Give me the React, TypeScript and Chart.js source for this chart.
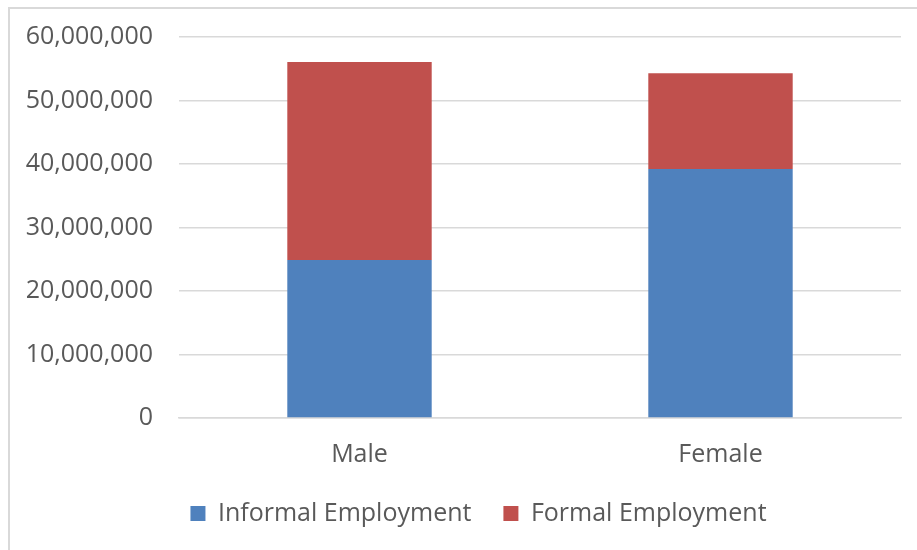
import React, { useEffect, useRef } from "react";
import { Chart, registerables } from "chart.js";

Chart.register(...registerables);

const categories = ["Male", "Female"];
const informalEmployment = [24900000, 39200000];
const formalEmployment = [31150000, 15100000];
const seriesLabels = ["Informal Employment", "Formal Employment"];
const seriesColors = ["#4F81BD", "#C0504D"];
const yMax = 60000000;
const yStep = 10000000;

const FONT = "'Open Sans', sans-serif";
const TEXT = "#595959";
const GRID = "#d9d9d9";

const legendShift = {
  id: "legendShift",
  afterLayout(chart: any) {
    const l = chart.legend;
    if (l) {
      l.left += 28;
      l.right += 28;
    }
  },
};

export default function App() {
  const ref = useRef<HTMLCanvasElement | null>(null);
  useEffect(() => {
    if (!ref.current) return;
    const chart = new Chart(ref.current, {
      type: "bar",
      data: {
        labels: categories,
        datasets: [
          {
            label: seriesLabels[0],
            data: informalEmployment,
            backgroundColor: seriesColors[0],
            categoryPercentage: 0.8,
            barPercentage: 0.5,
          },
          {
            label: seriesLabels[1],
            data: formalEmployment,
            backgroundColor: seriesColors[1],
            categoryPercentage: 0.8,
            barPercentage: 0.5,
          },
        ],
      },
      options: {
        animation: false,
        responsive: false,
        maintainAspectRatio: false,
        layout: { padding: { left: 0, right: 16, top: 37, bottom: 14 } },
        plugins: {
          title: { display: false },
          tooltip: { enabled: false },
          legend: {
            position: "bottom",
            labels: {
              color: TEXT,
              font: { family: FONT, size: 25 },
              boxWidth: 15,
              boxHeight: 15,
              padding: 32,
            },
          },
        },
        scales: {
          x: {
            stacked: true,
            afterFit: (s: any) => {
              s.height = 51;
            },
            grid: { display: false, drawTicks: false },
            border: { display: true, color: GRID, width: 1.5 },
            ticks: {
              color: TEXT,
              font: { family: FONT, size: 25 },
              padding: 22,
            },
          },
          y: {
            stacked: true,
            min: 0,
            max: yMax,
            afterFit: (s: any) => {
              s.width = 179;
            },
            grid: { color: GRID, lineWidth: 1.5, drawTicks: true, tickLength: 26, tickColor: "rgba(0,0,0,0)" },
            border: { display: false },
            ticks: {
              stepSize: yStep,
              color: TEXT,
              font: { family: FONT, size: 25 },
              padding: 0,
              callback: (v: any) => Number(v).toLocaleString("en-US"),
            },
          },
        },
      },
      plugins: [legendShift],
    });
    return () => chart.destroy();
  }, []);

  return (
    <div style={{ position: "fixed", left: 0, top: 0, width: 917, height: 550, background: "#fff", overflow: "hidden" }}>
      <div
        style={{
          position: "absolute",
          left: 8,
          top: 7,
          width: 920,
          height: 560,
          borderLeft: "2px solid #d9d9d9",
          borderTop: "2px solid #d9d9d9",
        }}
      />
      <canvas ref={ref} width={917} height={550} style={{ position: "absolute", left: 0, top: 0 }} />
    </div>
  );
}
